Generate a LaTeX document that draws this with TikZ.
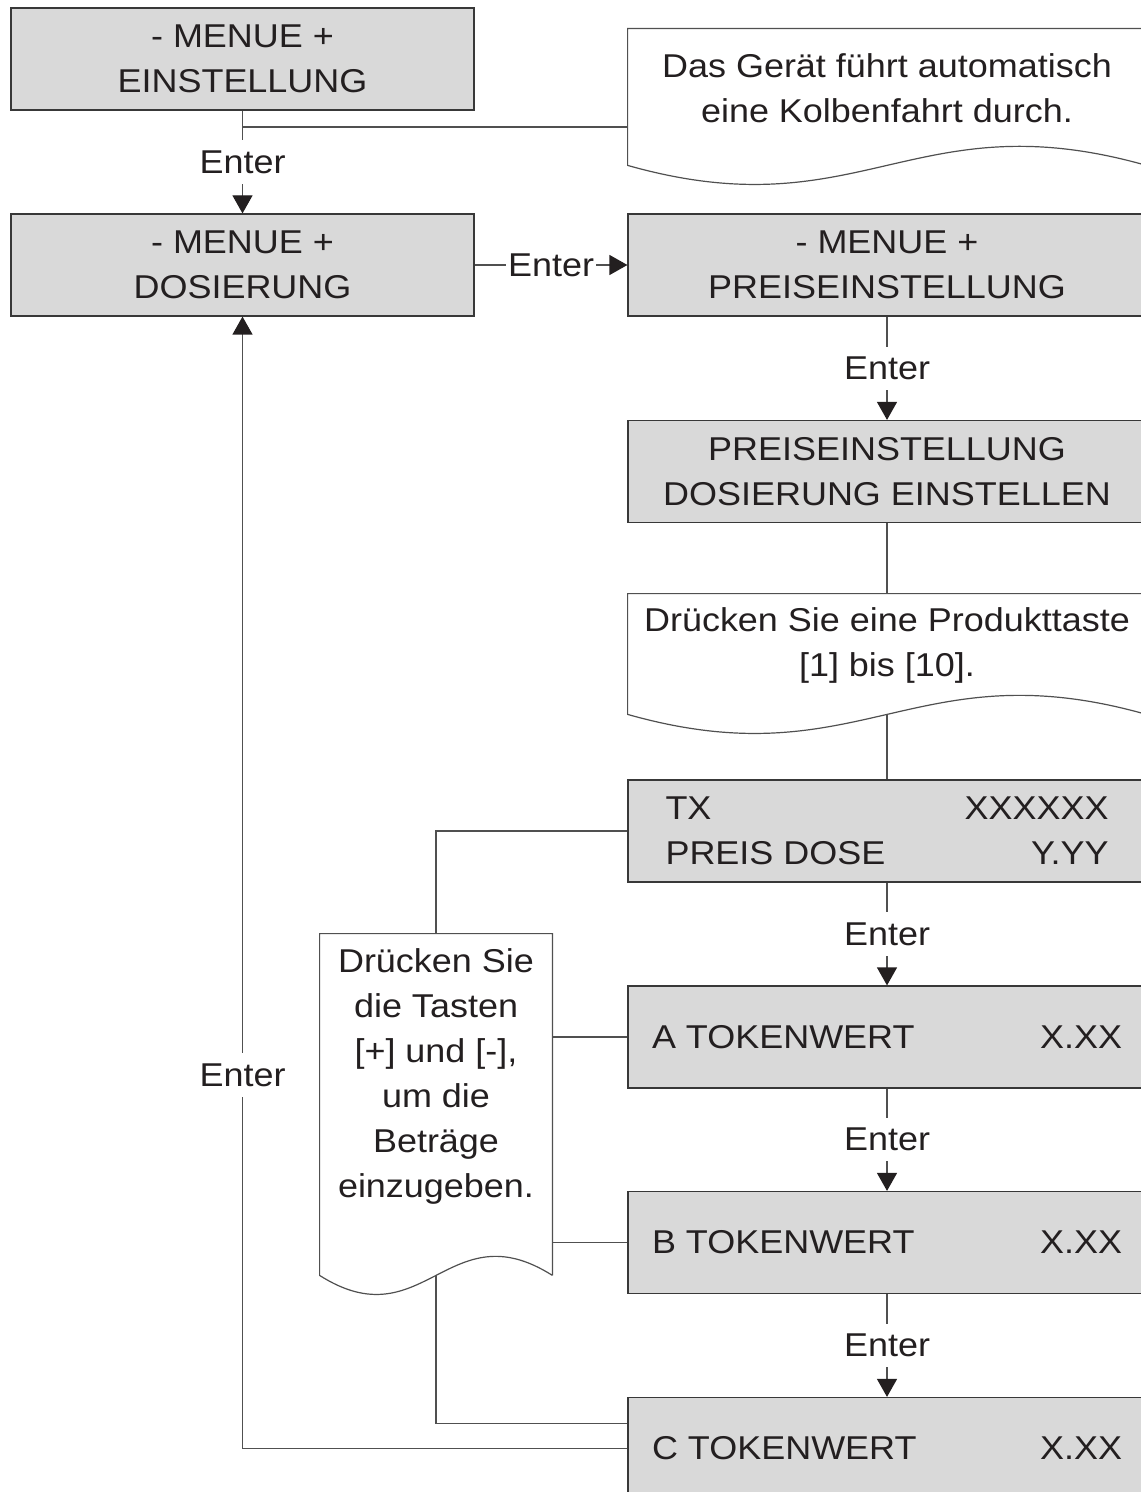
\documentclass[tikz,border=0pt]{standalone}
\usepackage{fontspec}
\setmainfont{Liberation Sans}[FakeStretch=1.09]
\usetikzlibrary{arrows.meta}
\definecolor{boxgray}{RGB}{217,217,217}
\definecolor{linegray}{RGB}{80,80,80}
\definecolor{inkblack}{RGB}{35,31,32}
\tikzset{
  menubox/.style={draw=linegray!70!black,fill=boxgray,line width=0.6pt,minimum height=51pt,inner sep=0pt,align=center,text=inkblack,font=\fontsize{16.5}{22.5}\selectfont},
  leftbox/.style={menubox,minimum width=231.5pt},
  rightbox/.style={menubox,minimum width=259pt},
  note/.style={inner sep=0pt,align=center,text=inkblack,font=\fontsize{16.5}{22.5}\selectfont},
  link/.style={draw=linegray,line width=0.6pt},
  arr/.style={link,-{Triangle[length=9pt,width=10pt,color=inkblack]}},
  enterlbl/.style={fill=white,inner xsep=1pt,inner ysep=5pt,text=inkblack,font=\fontsize{16.5}{22.5}\selectfont}
}
\begin{document}
\begin{tikzpicture}[x=0.5pt,y=-0.5pt]
  \useasboundingbox (0,0) rectangle (1140,1492);
  % menu boxes
  \node[leftbox] (einst) at (242.5,59) {- MENUE +\\EINSTELLUNG};
  \node[leftbox] (dosier) at (242.5,265) {- MENUE +\\DOSIERUNG};
  \node[rightbox] (preis) at (887,265) {- MENUE +\\PREISEINSTELLUNG};
  \node[rightbox] (preisdos) at (887,471.5) {PREISEINSTELLUNG\\DOSIERUNG EINSTELLEN};
  \node[rightbox] (tx) at (887,831) {\makebox[221.5pt]{TX\hfill XXXXXX}\\\makebox[221.5pt]{PREIS DOSE\hfill Y.YY}};
  \node[rightbox] (toka) at (887,1037) {\makebox[235pt]{A TOKENWERT\hfill X.XX}};
  \node[rightbox] (tokb) at (887,1242.5) {\makebox[235pt]{B TOKENWERT\hfill X.XX}};
  \node[rightbox] (tokc) at (887,1448.5) {\makebox[235pt]{C TOKENWERT\hfill X.XX}};
  % notes
  \node[note,minimum width=259pt,minimum height=59pt] (kolben) at (887,88) {Das Gerät führt automatisch\\eine Kolbenfahrt durch.};
  \node[note,minimum width=259pt,minimum height=51pt] (produkt) at (887,645) {Drücken Sie eine Produkttaste\\{}[1] bis [10].};
  \node[note,minimum width=116pt,minimum height=142pt] (tasten) at (436,1076) {Drücken Sie\\die Tasten\\{}[+] und [-],\\um die\\Beträge\\einzugeben.};
  \draw[link] ([yshift=-9pt]kolben.south east) -- (kolben.north east) -- (kolben.north west) -- ([yshift=-9pt]kolben.south west)
    .. controls +(116.5pt,-33pt) and +(-116.5pt,33pt) .. ([yshift=-9pt]kolben.south east);
  \draw[link] ([yshift=-9pt]produkt.south east) -- (produkt.north east) -- (produkt.north west) -- ([yshift=-9pt]produkt.south west)
    .. controls +(116.5pt,-33pt) and +(-116.5pt,33pt) .. ([yshift=-9pt]produkt.south east);
  \draw[link] ([yshift=-28.5pt]tasten.south east) -- (tasten.north east) -- (tasten.north west) -- ([yshift=-28.5pt]tasten.south west)
    .. controls +(52pt,-33pt) and +(-52pt,33pt) .. ([yshift=-28.5pt]tasten.south east);
  % connectors
  \coordinate (split) at (242.5,127);
  \draw[arr] (einst) -- node[enterlbl] {Enter} (dosier);
  \draw[link] (split) -- (split -| kolben.west);
  \draw[arr] (dosier) -- node[enterlbl,inner ysep=1pt] {Enter} (preis);
  \draw[arr] (preis) -- node[enterlbl] {Enter} (preisdos);
  \draw[link] (preisdos) -- (produkt);
  \draw[link] ([yshift=-9pt]produkt.south) -- (tx);
  \draw[arr] (tx) -- node[enterlbl] {Enter} (toka);
  \draw[arr] (toka) -- node[enterlbl] {Enter} (tokb);
  \draw[arr] (tokb) -- node[enterlbl] {Enter} (tokc);
  \draw[link] (tx.west) -| (tasten.north);
  \draw[link] (tasten.east |- toka.west) -- (toka.west);
  \draw[link] (tasten.east |- tokb.west) -- (tokb.west);
  \draw[link] ([yshift=-28.5pt]tasten.south) |- ([yshift=12.5pt]tokc.west);
  \draw[arr] (tokc.west) -| node[enterlbl,pos=0.665] {Enter} (dosier.south);
\end{tikzpicture}
\end{document}
